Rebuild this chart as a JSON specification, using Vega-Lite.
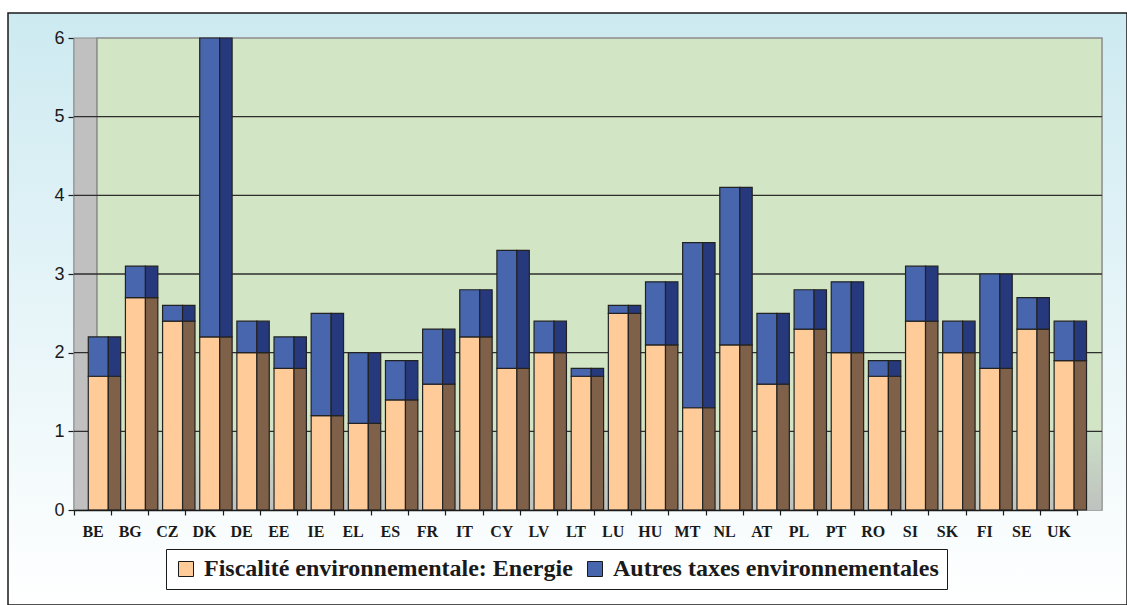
{
  "$schema": "https://vega.github.io/schema/vega-lite/v6.json",
  "width": 1119,
  "height": 592,
  "autosize": {"type": "none"},
  "padding": {"left": 8, "top": 13, "right": 0, "bottom": 0},
  "background": "#ffffff",
  "view": {
    "fill": {"gradient": "linear", "x1": 0, "y1": 0, "x2": 0, "y2": 1, "stops": [{"offset": 0, "color": "#cdeaf1"}, {"offset": 1, "color": "#ffffff"}]},
    "stroke": "#1a1a1a",
    "strokeWidth": 1.5
  },
  "config": {
    "font": "Liberation Sans",
    "legend": {
      "orient": "none",
      "legendX": 158,
      "legendY": 536,
      "direction": "horizontal",
      "fillColor": "#ffffff",
      "strokeColor": "#1a1a1a",
      "padding": 8,
      "symbolType": "square",
      "symbolSize": 225,
      "symbolStrokeColor": "#1a1a1a",
      "symbolStrokeWidth": 1,
      "symbolOpacity": 1,
      "labelFont": "Liberation Serif",
      "labelFontWeight": "bold",
      "labelFontSize": 24,
      "labelColor": "#1a1a1a",
      "labelOffset": 6,
      "columnPadding": 10,
      "labelLimit": 600
    }
  },
  "data": {
    "values": [
      {"country": "BE", "series": "Fiscalité environnementale: Energie", "value": 1.7},
      {"country": "BE", "series": "Autres taxes environnementales", "value": 0.5},
      {"country": "BG", "series": "Fiscalité environnementale: Energie", "value": 2.7},
      {"country": "BG", "series": "Autres taxes environnementales", "value": 0.4},
      {"country": "CZ", "series": "Fiscalité environnementale: Energie", "value": 2.4},
      {"country": "CZ", "series": "Autres taxes environnementales", "value": 0.2},
      {"country": "DK", "series": "Fiscalité environnementale: Energie", "value": 2.2},
      {"country": "DK", "series": "Autres taxes environnementales", "value": 3.8},
      {"country": "DE", "series": "Fiscalité environnementale: Energie", "value": 2.0},
      {"country": "DE", "series": "Autres taxes environnementales", "value": 0.4},
      {"country": "EE", "series": "Fiscalité environnementale: Energie", "value": 1.8},
      {"country": "EE", "series": "Autres taxes environnementales", "value": 0.4},
      {"country": "IE", "series": "Fiscalité environnementale: Energie", "value": 1.2},
      {"country": "IE", "series": "Autres taxes environnementales", "value": 1.3},
      {"country": "EL", "series": "Fiscalité environnementale: Energie", "value": 1.1},
      {"country": "EL", "series": "Autres taxes environnementales", "value": 0.9},
      {"country": "ES", "series": "Fiscalité environnementale: Energie", "value": 1.4},
      {"country": "ES", "series": "Autres taxes environnementales", "value": 0.5},
      {"country": "FR", "series": "Fiscalité environnementale: Energie", "value": 1.6},
      {"country": "FR", "series": "Autres taxes environnementales", "value": 0.7},
      {"country": "IT", "series": "Fiscalité environnementale: Energie", "value": 2.2},
      {"country": "IT", "series": "Autres taxes environnementales", "value": 0.6},
      {"country": "CY", "series": "Fiscalité environnementale: Energie", "value": 1.8},
      {"country": "CY", "series": "Autres taxes environnementales", "value": 1.5},
      {"country": "LV", "series": "Fiscalité environnementale: Energie", "value": 2.0},
      {"country": "LV", "series": "Autres taxes environnementales", "value": 0.4},
      {"country": "LT", "series": "Fiscalité environnementale: Energie", "value": 1.7},
      {"country": "LT", "series": "Autres taxes environnementales", "value": 0.1},
      {"country": "LU", "series": "Fiscalité environnementale: Energie", "value": 2.5},
      {"country": "LU", "series": "Autres taxes environnementales", "value": 0.1},
      {"country": "HU", "series": "Fiscalité environnementale: Energie", "value": 2.1},
      {"country": "HU", "series": "Autres taxes environnementales", "value": 0.8},
      {"country": "MT", "series": "Fiscalité environnementale: Energie", "value": 1.3},
      {"country": "MT", "series": "Autres taxes environnementales", "value": 2.1},
      {"country": "NL", "series": "Fiscalité environnementale: Energie", "value": 2.1},
      {"country": "NL", "series": "Autres taxes environnementales", "value": 2.0},
      {"country": "AT", "series": "Fiscalité environnementale: Energie", "value": 1.6},
      {"country": "AT", "series": "Autres taxes environnementales", "value": 0.9},
      {"country": "PL", "series": "Fiscalité environnementale: Energie", "value": 2.3},
      {"country": "PL", "series": "Autres taxes environnementales", "value": 0.5},
      {"country": "PT", "series": "Fiscalité environnementale: Energie", "value": 2.0},
      {"country": "PT", "series": "Autres taxes environnementales", "value": 0.9},
      {"country": "RO", "series": "Fiscalité environnementale: Energie", "value": 1.7},
      {"country": "RO", "series": "Autres taxes environnementales", "value": 0.2},
      {"country": "SI", "series": "Fiscalité environnementale: Energie", "value": 2.4},
      {"country": "SI", "series": "Autres taxes environnementales", "value": 0.7},
      {"country": "SK", "series": "Fiscalité environnementale: Energie", "value": 2.0},
      {"country": "SK", "series": "Autres taxes environnementales", "value": 0.4},
      {"country": "FI", "series": "Fiscalité environnementale: Energie", "value": 1.8},
      {"country": "FI", "series": "Autres taxes environnementales", "value": 1.2},
      {"country": "SE", "series": "Fiscalité environnementale: Energie", "value": 2.3},
      {"country": "SE", "series": "Autres taxes environnementales", "value": 0.4},
      {"country": "UK", "series": "Fiscalité environnementale: Energie", "value": 1.9},
      {"country": "UK", "series": "Autres taxes environnementales", "value": 0.5}
    ]
  },
  "layer": [
    {
      "data": {"values": [{}]},
      "mark": {"type": "rect", "fill": "#c0c0c0", "stroke": "#8c8c8c", "strokeWidth": 1, "xOffset": -18.6, "x2Offset": 4.4},
      "encoding": {
        "x": {
          "datum": "BE",
          "type": "nominal",
          "scale": {
            "domain": ["BE","BG","CZ","DK","DE","EE","IE","EL","ES","FR","IT","CY","LV","LT","LU","HU","MT","NL","AT","PL","PT","RO","SI","SK","FI","SE","UK"],
            "range": [66, 1069],
            "paddingInner": 0,
            "paddingOuter": 0
          },
          "axis": {
            "orient": "bottom",
            "offset": -95,
            "title": null,
            "tickBand": "extent",
            "domainColor": "#1a1a1a",
            "domainWidth": 1.5,
            "tickColor": "#1a1a1a",
            "tickSize": 5,
            "tickWidth": 1.2,
            "labelAngle": 0,
            "labelFont": "Liberation Serif",
            "labelFontWeight": "bold",
            "labelFontSize": 16,
            "labelColor": "#1a1a1a",
            "labelPadding": 8,
            "grid": false
          }
        },
        "x2": {"datum": "BE"},
        "y": {
          "datum": 0,
          "type": "quantitative",
          "scale": {"domain": [0, 6], "range": [497, 25], "nice": false},
          "axis": {
            "orient": "left",
            "offset": -66,
            "title": null,
            "values": [0, 1, 2, 3, 4, 5, 6],
            "format": "d",
            "grid": false,
            "domainColor": "#1a1a1a",
            "domainWidth": 1.5,
            "tickColor": "#1a1a1a",
            "tickSize": 6,
            "tickWidth": 1.2,
            "labelFont": "Liberation Sans",
            "labelFontSize": 18,
            "labelColor": "#1a1a1a",
            "labelPadding": 4
          }
        },
        "y2": {"datum": 6}
      }
    },
    {
      "data": {"values": [{}]},
      "mark": {"type": "rect", "fill": "#d2e5c5", "stroke": "#8c8c8c", "strokeWidth": 1.5, "xOffset": 4.4, "x2Offset": 43.6},
      "encoding": {
        "x": {"datum": "BE", "type": "nominal"},
        "x2": {"datum": "UK"},
        "y": {"datum": 0, "type": "quantitative"},
        "y2": {"datum": 6}
      }
    },
    {
      "data": {"values": [{}]},
      "mark": {
        "type": "rect",
        "fill": {"gradient": "linear", "x1": 0, "y1": 0, "x2": 0, "y2": 1, "stops": [{"offset": 0, "color": "#cadfc6"}, {"offset": 1, "color": "#bfc2bf"}]},
        "xOffset": 5.2,
        "x2Offset": 42.8
      },
      "encoding": {
        "x": {"datum": "BE", "type": "nominal"},
        "x2": {"datum": "UK"},
        "y": {"datum": 0, "type": "quantitative"},
        "y2": {"datum": 1}
      }
    },
    {
      "data": {"values": [{"g": 1}, {"g": 2}, {"g": 3}, {"g": 4}, {"g": 5}]},
      "mark": {"type": "rule", "color": "#2e2e2e", "strokeWidth": 1.3, "xOffset": -18.6, "x2Offset": 43.6},
      "encoding": {
        "x": {"datum": "BE", "type": "nominal"},
        "x2": {"datum": "UK"},
        "y": {"field": "g", "type": "quantitative"}
      }
    },
    {
      "mark": {"type": "bar", "width": 20, "xOffset": 5.7, "stroke": "#222222", "strokeWidth": 1.2},
      "encoding": {
        "x": {"field": "country", "type": "nominal"},
        "y": {"field": "value", "type": "quantitative", "stack": "zero"},
        "color": {
          "field": "series",
          "type": "nominal",
          "scale": {"domain": ["Fiscalité environnementale: Energie", "Autres taxes environnementales"], "range": ["#ffcc99", "#4766ae"]},
          "legend": {"title": null}
        },
        "order": {"field": "series", "sort": "descending"}
      }
    },
    {
      "mark": {"type": "bar", "width": 12.4, "xOffset": 21.9, "stroke": "#222222", "strokeWidth": 1.2},
      "encoding": {
        "x": {"field": "country", "type": "nominal"},
        "y": {"field": "value", "type": "quantitative", "stack": "zero"},
        "detail": {"field": "series"},
        "order": {"field": "series", "sort": "descending"},
        "fill": {"condition": {"test": "datum.series === 'Autres taxes environnementales'", "value": "#26397c"}, "value": "#7f6048"}
      }
    }
  ]
}
